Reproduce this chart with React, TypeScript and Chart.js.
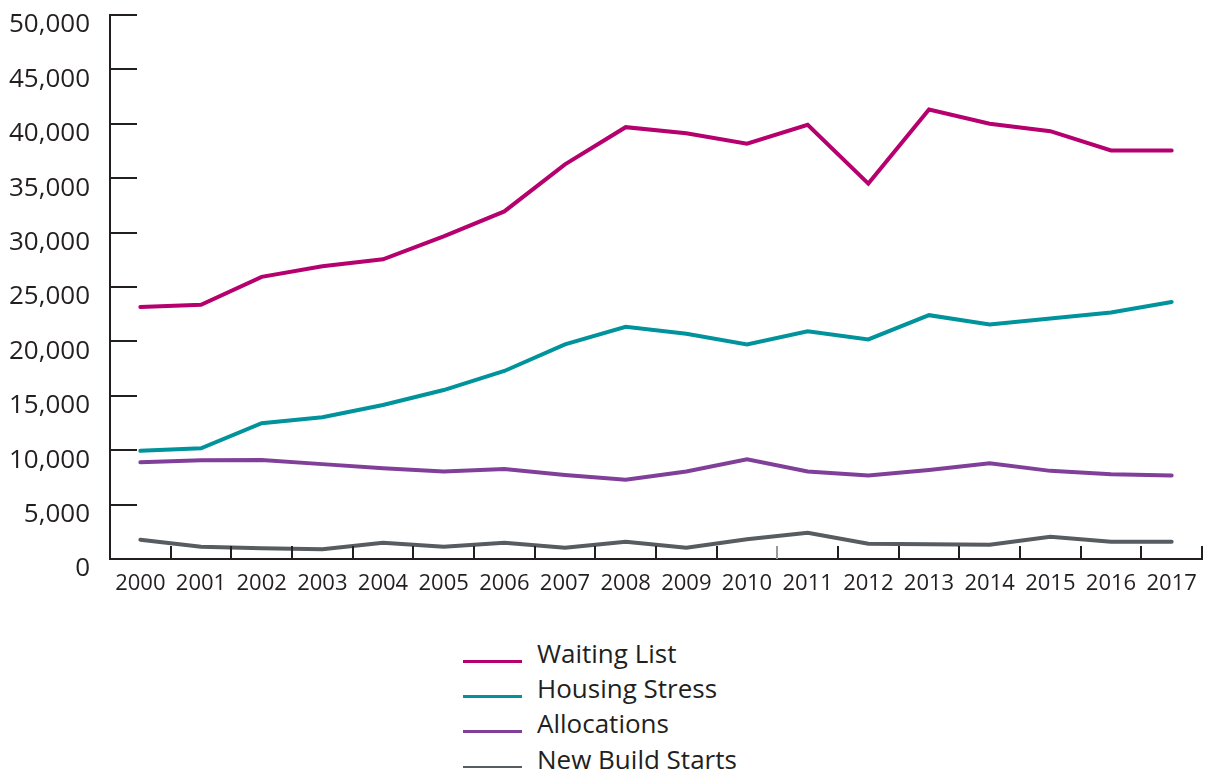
import React, { useEffect, useRef } from "react";
import { Chart, registerables } from "chart.js";

Chart.register(...registerables);

const years = ["2000","2001","2002","2003","2004","2005","2006","2007","2008","2009","2010","2011","2012","2013","2014","2015","2016","2017"];

const waitingList = [23170, 23360, 25930, 26910, 27550, 29660, 31950, 36270, 39690, 39140, 38170, 39910, 34500, 41310, 40000, 39320, 37550, 37550];
const housingStress = [9940, 10180, 12480, 13030, 14160, 15530, 17280, 19720, 21340, 20700, 19720, 20940, 20180, 22410, 21560, 22110, 22660, 23630];
const allocations = [8900, 9080, 9110, 8720, 8350, 8040, 8280, 7730, 7280, 8040, 9170, 8040, 7670, 8190, 8810, 8100, 7800, 7670];
const newBuildStarts = [1770, 1130, 990, 900, 1500, 1130, 1500, 1040, 1590, 1040, 1820, 2410, 1400, 1360, 1310, 2050, 1590, 1590];

const seriesNames = ["Waiting List", "Housing Stress", "Allocations", "New Build Starts"];
const seriesColors = ["#b5006e", "#00939b", "#80409a", "#565c60"];
const seriesData = [waitingList, housingStress, allocations, newBuildStarts];

const yMin = 0;
const yMax = 50000;
const yStep = 5000;

const TEXT = "#231f20";

const inwardTicks = {
  id: "inwardTicks",
  afterDraw(chart: any) {
    const ctx = chart.ctx;
    const xs = chart.scales.x;
    const ys = chart.scales.y;
    const area = chart.chartArea;
    ctx.save();
    ctx.lineWidth = 2;
    ctx.strokeStyle = TEXT;
    for (let v = yMin + yStep; v <= yMax; v += yStep) {
      const y = Math.round(ys.getPixelForValue(v));
      ctx.beginPath();
      ctx.moveTo(area.left, y);
      ctx.lineTo(area.left + 27, y);
      ctx.stroke();
    }
    const n = years.length;
    const half = (xs.getPixelForValue(1) - xs.getPixelForValue(0)) / 2;
    for (let i = 1; i <= n; i++) {
      const x = Math.round(xs.getPixelForValue(i - 1) + half);
      ctx.strokeStyle = i === 11 ? "#9a9a9a" : TEXT;
      ctx.beginPath();
      ctx.moveTo(x, area.bottom);
      ctx.lineTo(x, area.bottom - 13);
      ctx.stroke();
    }
    ctx.restore();
  },
};

export default function App() {
  const ref = useRef<HTMLCanvasElement | null>(null);

  useEffect(() => {
    if (!ref.current) return;
    const chart = new Chart(ref.current, {
      type: "line",
      data: {
        labels: years,
        datasets: seriesNames.map((name, i) => ({
          label: name,
          data: seriesData[i],
          borderColor: seriesColors[i],
          backgroundColor: seriesColors[i],
          borderWidth: 4,
          pointRadius: 0,
          tension: 0,
          borderCapStyle: "round" as const,
          borderJoinStyle: "miter" as const,
          fill: false,
        })),
      },
      options: {
        responsive: false,
        animation: false,
        layout: { padding: { top: 15, right: 8, left: 0, bottom: 0 } },
        plugins: {
          legend: { display: false },
          tooltip: { enabled: false },
        },
        scales: {
          x: {
            type: "category",
            offset: true,
            grid: { display: false, drawTicks: false },
            border: { display: true, color: TEXT, width: 2 },
            ticks: {
              color: TEXT,
              padding: 12,
              maxRotation: 0,
              autoSkip: false,
              font: { family: "'Open Sans', sans-serif", size: 22 },
            },
            afterFit(scale: any) {
              scale.height = 61;
              scale.paddingLeft = 0;
              scale.paddingRight = 0;
            },
          },
          y: {
            min: yMin,
            max: yMax,
            grid: { display: false, drawTicks: false },
            border: { display: true, color: TEXT, width: 2 },
            ticks: {
              stepSize: yStep,
              color: TEXT,
              padding: 20,
              labelOffset: 10,
              font: { family: "'Open Sans', sans-serif", size: 26 },
              callback: (v: any) => Number(v).toLocaleString("en-US"),
            },
            afterFit(scale: any) {
              scale.width = 110;
              scale.paddingTop = 0;
              scale.paddingBottom = 0;
            },
          },
        },
      },
      plugins: [inwardTicks],
    });
    return () => chart.destroy();
  }, []);

  return (
    <div style={{ position: "absolute", left: 0, top: 0, width: 1210, height: 774, background: "#fff" }}>
      <canvas ref={ref} width={1210} height={620} style={{ display: "block" }} />
      {seriesNames.map((name, i) => (
        <div key={name} style={{ position: "absolute", left: 463, top: 640 + i * 35.2, height: 35, width: 400 }}>
          <div style={{ position: "absolute", left: 0, top: 20, width: 59, height: 2.5, background: seriesColors[i] }} />
          <div
            style={{
              position: "absolute",
              left: 74,
              top: 0,
              fontFamily: "'Open Sans', sans-serif",
              fontSize: 26,
              lineHeight: "26px",
              color: TEXT,
              whiteSpace: "nowrap",
            }}
          >
            {name}
          </div>
        </div>
      ))}
    </div>
  );
}
